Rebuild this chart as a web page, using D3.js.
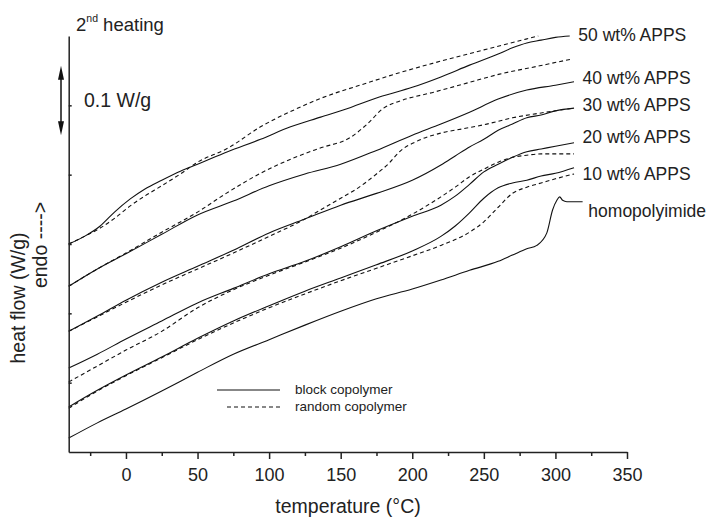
<!DOCTYPE html>
<html>
<head>
  <meta charset="utf-8">
  <title>DSC 2nd heating</title>
  <style>
  body { margin: 0; background: #fff; }
  text { font-family: "Liberation Sans", Arial, sans-serif; fill: #222; }
  .curve { fill: none; stroke: #111; stroke-width: 1.1; stroke-linejoin: round; }
  .dashed { stroke-dasharray: 4,3; }
  .axis path, .axis line { stroke: #222; stroke-width: 1.5; }
  </style>
</head>
<body>
<script src="https://d3js.org/d3.v7.min.js"></script>
<script>
// temperature (°C), heat flow (W/g, arbitrary offset)
var homo = [[-40,.020],[-20,.042],[0,.062],[25,.088],[50,.115],[75,.141],[100,.162],[125,.183],[150,.203],[175,.221],[200,.235],[220,.248],[240,.262],[260,.275],[270,.284],[280,.293],[287,.298],[294,.316],[298,.349],[301,.363],[303,.368],[305,.363],[308,.361],[319,.361]];

var block10 = [[-40,.065],[-20,.089],[0,.111],[25,.137],[50,.164],[75,.189],[100,.211],[125,.232],[150,.251],[175,.270],[200,.290],[220,.311],[230,.326],[240,.345],[250,.366],[260,.381],[270,.388],[280,.392],[290,.398],[300,.402],[313,.410]];
var random10 = [[-40,.063],[-20,.088],[0,.110],[25,.136],[50,.162],[75,.186],[100,.208],[125,.228],[150,.247],[175,.265],[200,.283],[220,.298],[240,.317],[250,.332],[260,.353],[270,.373],[280,.382],[290,.388],[300,.394],[313,.401]];

var block20 = [[-40,.121],[-20,.141],[0,.163],[25,.189],[50,.215],[75,.236],[100,.257],[125,.275],[150,.296],[175,.319],[200,.340],[220,.356],[230,.369],[240,.386],[250,.404],[260,.415],[270,.425],[280,.433],[290,.437],[300,.441],[313,.446]];
var random20 = [[-40,.101],[-20,.124],[0,.147],[25,.174],[50,.208],[75,.234],[100,.255],[125,.274],[150,.294],[175,.317],[200,.343],[220,.368],[230,.382],[240,.397],[250,.408],[260,.418],[270,.425],[280,.428],[290,.430],[313,.430]];

var block30 = [[-40,.174],[-20,.196],[0,.219],[25,.245],[50,.268],[75,.291],[100,.316],[125,.336],[150,.356],[175,.373],[200,.392],[220,.414],[230,.427],[240,.440],[250,.451],[260,.464],[270,.473],[280,.482],[290,.486],[300,.492],[313,.496]];
var random30 = [[-40,.174],[-20,.195],[0,.216],[25,.241],[50,.264],[75,.287],[100,.311],[125,.336],[135,.348],[150,.366],[160,.378],[175,.401],[184,.417],[191,.433],[203,.448],[220,.460],[235,.466],[250,.472],[270,.482],[290,.489],[313,.496]];

var block40 = [[-40,.239],[-20,.264],[0,.286],[25,.314],[50,.342],[75,.362],[100,.384],[125,.401],[150,.415],[175,.435],[200,.457],[220,.473],[240,.490],[260,.509],[280,.522],[300,.529],[313,.534]];
var random40 = [[-40,.239],[-20,.264],[0,.287],[25,.317],[50,.346],[70,.373],[94,.402],[117,.424],[135,.438],[157,.454],[168,.472],[180,.496],[191,.506],[215,.519],[238,.532],[261,.545],[289,.557],[312,.567]];

var block50 = [[-40,.300],[-29,.311],[-18,.326],[-8,.346],[3,.365],[13,.379],[25,.392],[38,.405],[50,.415],[71,.433],[94,.451],[115,.469],[136,.483],[157,.497],[177,.512],[200,.526],[220,.541],[240,.558],[260,.574],[270,.583],[280,.590],[290,.594],[300,.598],[310,.600]];
var random50 = [[-40,.300],[-29,.311],[-18,.323],[-8,.337],[3,.355],[13,.369],[25,.384],[38,.401],[50,.418],[71,.438],[94,.469],[117,.493],[136,.510],[168,.532],[191,.547],[215,.561],[250,.580],[288,.600]];

var seriesLabels = ["50 wt% APPS", "40 wt% APPS", "30 wt% APPS", "20 wt% APPS", "10 wt% APPS", "homopolyimide"];
var labelTemp = [316, 319, 319, 319, 319, 323];
var labelFlow = [.602, .539, .500, .454, .401, .348];

var xMajor = [0, 50, 100, 150, 200, 250, 300, 350];
var xMinor = [-25, 25, 75, 125, 175, 225, 275, 325];
var yTicks = [0.1, 0.2, 0.3, 0.4, 0.5];
var scaleBar = [0.457, 0.557]; // 0.1 W/g

var width = 707, height = 517;

var svg = d3.select("body").append("svg")
    .attr("width", width)
    .attr("height", height);

var x = d3.scaleLinear().domain([-40, 350]).range([68.7, 627]);
var y = d3.scaleLinear().domain([0, 0.6]).range([452, 36]);

var line = d3.line()
    .x(function(d) { return x(d[0]); })
    .y(function(d) { return y(d[1]); })
    .curve(d3.curveMonotoneX);

var series = [
  {pts: homo, dash: false},
  {pts: random10, dash: true}, {pts: block10, dash: false},
  {pts: random20, dash: true}, {pts: block20, dash: false},
  {pts: random30, dash: true}, {pts: block30, dash: false},
  {pts: random40, dash: true}, {pts: block40, dash: false},
  {pts: random50, dash: true}, {pts: block50, dash: false}
];

svg.append("g").selectAll("path")
    .data(series)
  .enter().append("path")
    .attr("class", function(d) { return d.dash ? "curve dashed" : "curve"; })
    .attr("d", function(d) { return line(d.pts); });

// axes
svg.append("g")
    .attr("class", "axis")
    .attr("transform", "translate(0,452)")
    .call(d3.axisBottom(x).tickValues(xMajor).tickSize(7).tickSizeOuter(0).tickPadding(9))
    .call(function(g) {
      g.selectAll("text").attr("font-size", 18).attr("font-family", null);
    });

svg.append("g")
    .attr("class", "axis")
    .attr("transform", "translate(0,452)")
    .call(d3.axisBottom(x).tickValues(xMinor).tickSize(4).tickFormat(""))
    .call(function(g) { g.select(".domain").remove(); });

svg.append("g")
    .attr("class", "axis")
    .attr("transform", "translate(68.7,0)")
    .call(d3.axisLeft(y).tickValues(yTicks).tickSize(-3).tickSizeOuter(0).tickFormat(""));

// axis titles
svg.append("text")
    .attr("x", 348).attr("y", 513)
    .attr("text-anchor", "middle")
    .attr("font-size", 19.5)
    .text("temperature (°C)");

svg.append("text")
    .attr("transform", "translate(25,298) rotate(-90)")
    .attr("text-anchor", "middle")
    .attr("font-size", 19.5)
    .text("heat flow (W/g)");

svg.append("text")
    .attr("transform", "translate(47,245) rotate(-90)")
    .attr("text-anchor", "middle")
    .attr("font-size", 19.5)
    .text("endo ---->");

// 2nd heating
var head = svg.append("text").attr("x", 76).attr("y", 31).attr("font-size", 18.5);
head.append("tspan").text("2");
head.append("tspan").attr("dy", -9).attr("font-size", 10.5).text("nd");
head.append("tspan").attr("dy", 9).text(" heating");

// scale bar
var bx = 61, y0 = y(scaleBar[0]), y1 = y(scaleBar[1]);
svg.append("line")
    .attr("x1", bx).attr("x2", bx)
    .attr("y1", y1 + 8).attr("y2", y0 - 8)
    .attr("stroke", "#111").attr("stroke-width", 1.5);
svg.append("path")
    .attr("d", "M" + bx + "," + y1 + "l-3,14h6z M" + bx + "," + y0 + "l-3,-14h6z")
    .attr("fill", "#111");
svg.append("text")
    .attr("x", 84).attr("y", (y0 + y1) / 2)
    .attr("dy", "0.35em")
    .attr("font-size", 19.5)
    .text("0.1 W/g");

// series labels
svg.append("g").selectAll("text")
    .data(seriesLabels)
  .enter().append("text")
    .attr("x", function(d, i) { return x(labelTemp[i]); })
    .attr("y", function(d, i) { return y(labelFlow[i]); })
    .attr("dy", "0.35em")
    .attr("font-size", 17.5)
    .text(function(d) { return d; });

// legend
var legend = svg.append("g");
var legendItems = [{label: "block copolymer", dash: false, x0: 217, y: 390},
                   {label: "random copolymer", dash: true, x0: 227, y: 407}];
legendItems.forEach(function(d) {
  legend.append("line")
      .attr("class", d.dash ? "curve dashed" : "curve")
      .attr("x1", d.x0).attr("x2", 280)
      .attr("y1", d.y).attr("y2", d.y);
  legend.append("text")
      .attr("x", 295).attr("y", d.y)
      .attr("dy", "0.33em")
      .attr("font-size", 13.5)
      .text(d.label);
});
</script>
</body>
</html>
